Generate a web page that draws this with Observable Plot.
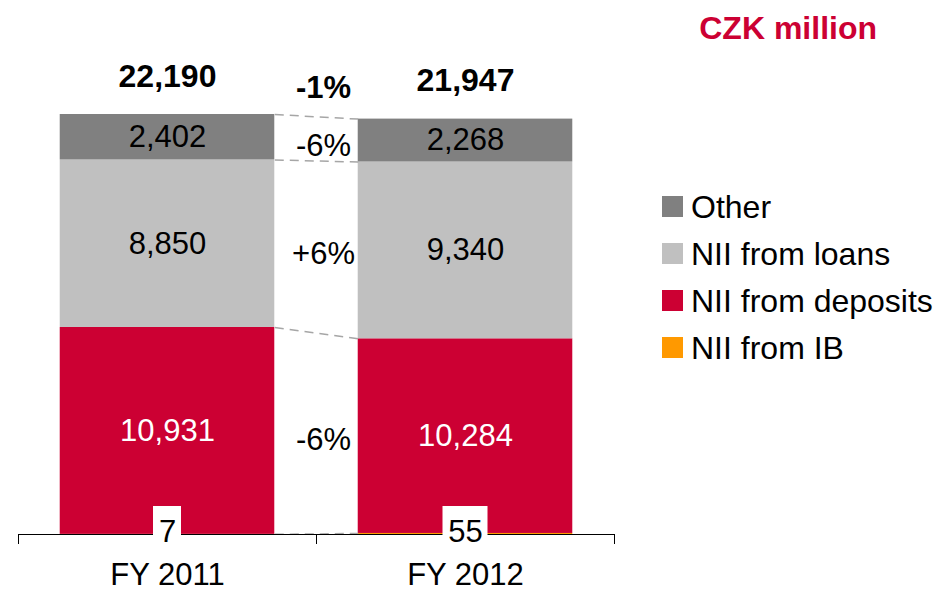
<!DOCTYPE html>
<html><head><meta charset="utf-8">
<script src="https://cdn.jsdelivr.net/npm/d3@7"></script>
<script src="https://cdn.jsdelivr.net/npm/@observablehq/plot@0.6"></script>
<style>
body{margin:0;background:#fff;font-family:"Liberation Sans",Arial,sans-serif;}
#wrap{position:relative;width:939px;height:592px;}
#title{position:absolute;right:62px;top:12px;font-weight:bold;font-size:32px;line-height:1;color:#cc0033;}
#legend{position:absolute;left:662px;top:183px;}
.item{display:flex;align-items:center;height:47px;font-size:32px;line-height:1;color:#000;}
.sw{width:21px;height:21px;margin-right:8px;}
</style></head><body>
<div id="wrap"><div id="chart"></div><div id="title">CZK million</div><div id="legend"></div></div>
<script>
const categories = ["FY 2011", "FY 2012"];
const series = ["NII from IB", "NII from deposits", "NII from loans", "Other"]; // bottom to top
const ib = [7, 55];
const deposits = [10931, 10284];
const loans = [8850, 9340];
const other = [2402, 2268];
const totals = [22190, 21947];
const changes = ["", "-6%", "+6%", "-6%"]; // per series, bottom to top
const totalChange = "-1%";
const colors = ["#ff9900", "#cc0033", "#c0c0c0", "#808080"];
const legendOrder = ["Other", "NII from loans", "NII from deposits", "NII from IB"];

const values = [ib, deposits, loans, other];
const fmt = d3.format(",");
const pad = 0.14;

const rows = categories.flatMap((c, i) => series.map((s, k) => ({cat: c, i, series: s, value: values[k][i]})));
const changeRows = series.map((s, k) => ({series: s, value: d3.mean(values[k]), label: changes[k]}));
const cums = categories.map((c, i) => Array.from(d3.cumsum(values.map(v => v[i]))));
const linkRows = series.map((s, k) => ({y1: cums[0][k], y2: cums[1][k]}));

const font = "'Liberation Sans', Arial, sans-serif";

const ibBoxes = ib.map((v, i) => {
  const w = fmt(v).length * 17 + 11;
  return Plot.rect([v], {x1: () => i + 0.5, x2: () => i + 0.5, y1: () => 0, y2: () => 0,
    insetLeft: -w / 2, insetRight: -w / 2, insetTop: -28, insetBottom: -14, fill: "white"});
});

const chart = Plot.plot({
  width: 939, height: 592,
  marginLeft: 18, marginRight: 325, marginTop: 114, marginBottom: 58,
  x: {domain: [0, categories.length]},
  y: {domain: [0, d3.max(totals)], axis: null},
  color: {domain: series, range: colors},
  style: {fontFamily: font, fontSize: "31px", color: "black", background: "white", overflow: "visible"},
  marks: [
    Plot.rectY(rows, {x1: d => d.i + pad, x2: d => d.i + 1 - pad, y: "value", fill: "series", order: series}),
    Plot.link(linkRows, {x1: () => 1 - pad, x2: () => 1 + pad, y1: "y1", y2: "y2",
      stroke: "#a6a6a6", strokeWidth: 1.5, strokeDasharray: "9,6"}),
    Plot.ruleY([0], {stroke: "black", strokeWidth: 1}),
    Plot.axisX(d3.range(categories.length + 1), {tickSize: 10, tickFormat: () => "", label: null, stroke: "black", strokeWidth: 1}),
    Plot.axisX(categories.map((c, i) => i + 0.5), {tickSize: 0, tickPadding: 28, tickFormat: d => categories[Math.floor(d)], fontSize: 31, label: null, fill: "black"}),
    Plot.text(rows, Plot.stackY({x: d => d.i + 0.5, y: "value", z: "series", order: series,
      text: d => (d.series === "Other" || d.series === "NII from loans") ? fmt(d.value) : null, fill: "black", fontSize: 31})),
    Plot.text(rows, Plot.stackY({x: d => d.i + 0.5, y: "value", z: "series", order: series,
      text: d => d.series === "NII from deposits" ? fmt(d.value) : null, fill: "white", fontSize: 31})),
    Plot.text(changeRows, Plot.stackY({x: () => 1, y: "value", z: "series", order: series,
      text: d => d.label || null, dx: 7, dy: 7, fill: "black", fontSize: 31})),
    Plot.text(categories, {x: (d, i) => i + 0.5, y: (d, i) => totals[i], text: (d, i) => fmt(totals[i]),
      dy: -38, fontWeight: "bold", fontSize: 32, fill: "black"}),
    Plot.text([totalChange], {x: () => 1, y: () => d3.mean(totals), text: d => d, dx: 7, dy: -29, fontWeight: "bold", fontSize: 31, fill: "black"}),
    ...ibBoxes,
    Plot.text(ib, {x: (d, i) => i + 0.5, y: () => 0, text: d => fmt(d), dy: -2, fontSize: 31, fill: "black"})
  ]
});
document.getElementById("chart").append(chart);

const legend = document.getElementById("legend");
for (const name of legendOrder) {
  const item = document.createElement("div");
  item.className = "item";
  const sw = document.createElement("div");
  sw.className = "sw";
  sw.style.background = colors[series.indexOf(name)];
  const label = document.createElement("span");
  label.textContent = name;
  item.append(sw, label);
  legend.append(item);
}
</script>
</body></html>
